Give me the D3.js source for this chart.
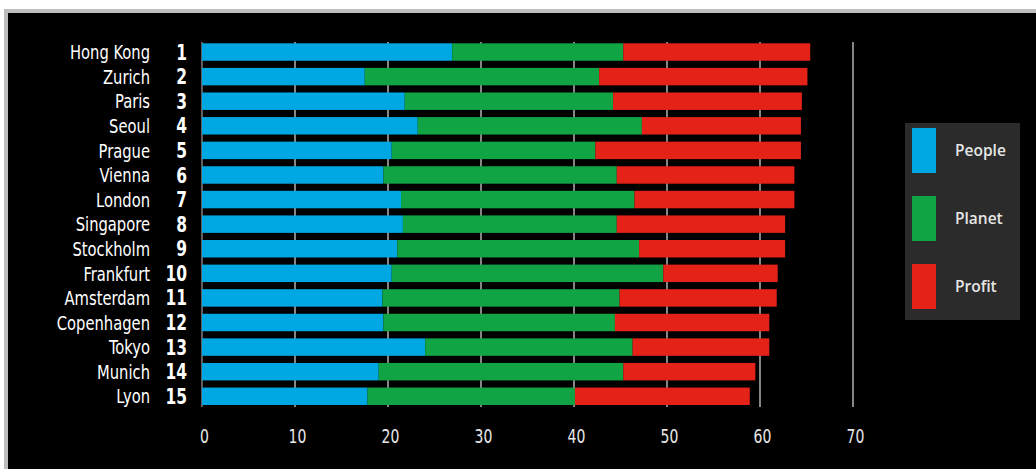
<!DOCTYPE html>
<html>
<head>
<meta charset="utf-8">
<script src="https://cdn.jsdelivr.net/npm/d3@7"></script>
<style>
  body { margin: 0; background: #fff; }
  svg { display: block; }
</style>
</head>
<body>
<div id="wrapper"></div>
<script>
// data
const cities = ["Hong Kong", "Zurich", "Paris", "Seoul", "Prague", "Vienna", "London",
  "Singapore", "Stockholm", "Frankfurt", "Amsterdam", "Copenhagen", "Tokyo", "Munich", "Lyon"]
const ranks = [1, 2, 3, 4, 5, 6, 7, 8, 9, 10, 11, 12, 13, 14, 15]
const people = [26.9, 17.5, 21.8, 23.2, 20.4, 19.5, 21.4, 21.6, 21.0, 20.4, 19.4, 19.5, 24.0, 19.0, 17.8]
const planet = [18.4, 25.2, 22.4, 24.1, 21.9, 25.1, 25.1, 23.0, 26.0, 29.2, 25.5, 24.9, 22.3, 26.3, 22.3]
const profit = [20.1, 22.4, 20.3, 17.1, 22.1, 19.1, 17.2, 18.1, 15.7, 12.3, 16.9, 16.6, 14.7, 14.2, 18.8]
const seriesNames = ["People", "Planet", "Profit"]
const xTicks = [0, 10, 20, 30, 40, 50, 60, 70]

function drawChart() {
  const dimensions = {
    width: 1036,
    height: 469,
    margin: { top: 43, right: 183, bottom: 64, left: 202 },
  }
  dimensions.boundedWidth = 853 - dimensions.margin.left
  dimensions.boundedHeight = dimensions.height
      - dimensions.margin.top
      - dimensions.margin.bottom

  const rows = cities.map((c, i) => ({
    city: c, rank: ranks[i],
    People: people[i], Planet: planet[i], Profit: profit[i],
  }))

  const wrapper = d3.select("#wrapper")
    .append("svg")
      .attr("width", dimensions.width)
      .attr("height", dimensions.height)

  // black panel with grey frame
  wrapper.append("rect")
      .attr("x", 6)
      .attr("y", 11)
      .attr("width", 1040)
      .attr("height", 470)
      .attr("fill", "#000")
      .attr("stroke", "#bdbdbd")
      .attr("stroke-width", 4)

  const bounds = wrapper.append("g")
      .attr("transform", `translate(${dimensions.margin.left},${dimensions.margin.top})`)

  const xScale = d3.scaleLinear()
    .domain([0, 70])
    .range([0, dimensions.boundedWidth])

  const yScale = d3.scaleBand()
    .domain(cities)
    .range([0.3, 362])
    .paddingInner(0.29)
    .paddingOuter(0)

  const color = d3.scaleOrdinal()
    .domain(seriesNames)
    .range(["#00a8e3", "#10a444", "#e42217"])

  // grid lines
  bounds.append("g")
    .selectAll("line")
    .data(xTicks)
    .join("line")
      .attr("x1", d => xScale(d))
      .attr("x2", d => xScale(d))
      .attr("y1", -1)
      .attr("y2", 364)
      .attr("stroke", d => d === 0 ? "#777" : "#a8a8a8")
      .attr("stroke-width", 1.6)

  const stacked = d3.stack().keys(seriesNames)(rows)

  bounds.append("g")
    .selectAll("g")
    .data(stacked)
    .join("g")
      .attr("fill", d => color(d.key))
    .selectAll("rect")
    .data(d => d)
    .join("rect")
      .attr("x", d => xScale(d[0]))
      .attr("y", d => yScale(d.data.city))
      .attr("width", d => xScale(d[1]) - xScale(d[0]))
      .attr("height", yScale.bandwidth())

  // city names and ranks, squeezed to look like a narrow face
  const labelFont = "'Liberation Sans Narrow', 'DejaVu Sans Condensed', sans-serif"
  const squeeze = 0.82
  const rowY = d => yScale(d.city) + yScale.bandwidth() / 2

  bounds.append("g")
    .selectAll("text")
    .data(rows)
    .join("text")
      .attr("transform", d => `translate(${150 - dimensions.margin.left},${rowY(d)}) scale(${squeeze},1)`)
      .attr("dy", "0.36em")
      .attr("text-anchor", "end")
      .attr("fill", "#fff")
      .style("font-family", labelFont)
      .style("font-size", "20px")
      .text(d => d.city)

  bounds.append("g")
    .selectAll("text")
    .data(rows)
    .join("text")
      .attr("transform", d => `translate(${187 - dimensions.margin.left},${rowY(d)}) scale(${squeeze},1)`)
      .attr("dy", "0.36em")
      .attr("text-anchor", "end")
      .attr("fill", "#fff")
      .style("font-family", labelFont)
      .style("font-weight", "bold")
      .style("font-size", "21px")
      .text(d => d.rank)

  // x axis
  const xAxisGenerator = d3.axisBottom()
    .scale(xScale)
    .tickValues(xTicks)
    .tickSize(0)
    .tickPadding(0)
  const xAxis = bounds.append("g")
      .attr("transform", `translate(2,${387})`)
    .call(xAxisGenerator)
  xAxis.select(".domain").remove()
  xAxis.selectAll("text")
      .attr("transform", `scale(${squeeze},1)`)
      .attr("fill", "#e8e8e8")
      .style("font-family", labelFont)
      .style("font-size", "19px")

  // legend
  const legend = wrapper.append("g")
      .attr("transform", "translate(905,123)")
  legend.append("rect")
      .attr("width", 115)
      .attr("height", 197)
      .attr("fill", "#2b2b2b")
  const items = legend.selectAll("g")
    .data(seriesNames)
    .join("g")
      .attr("transform", (d, i) => `translate(0,${5 + i * 68})`)
  items.append("rect")
      .attr("x", 7)
      .attr("width", 24)
      .attr("height", 45)
      .attr("fill", d => color(d))
  items.append("text")
      .attr("x", 50)
      .attr("y", 23)
      .attr("dy", "0.35em")
      .attr("fill", "#e6e6e6")
      .style("font-family", "'Open Sans', sans-serif")
      .style("font-weight", 600)
      .style("font-size", "15.5px")
      .text(d => d)
}

drawChart()
</script>
</body>
</html>
